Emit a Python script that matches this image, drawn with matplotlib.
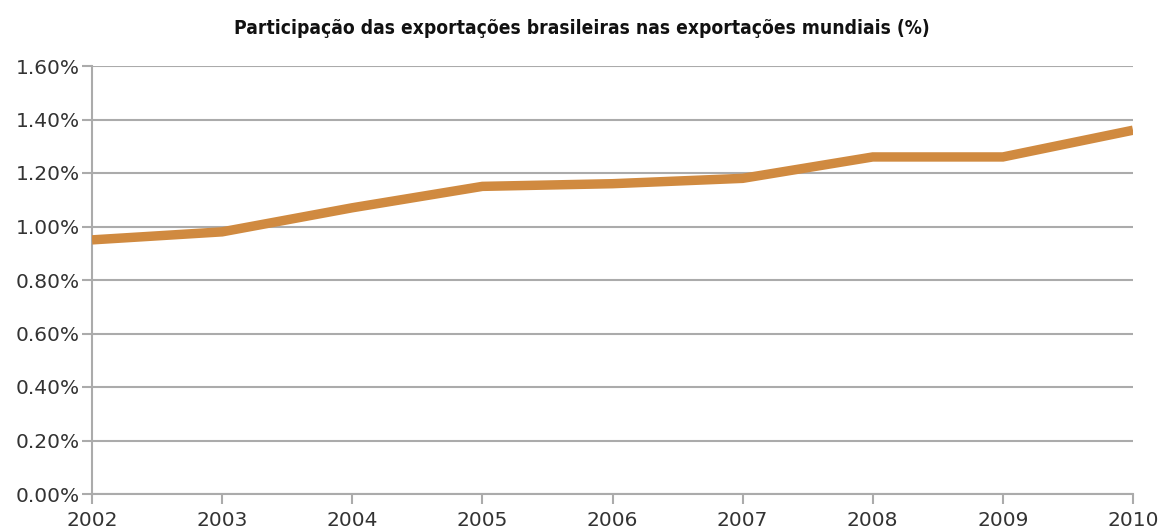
import matplotlib
matplotlib.use("Agg")
import matplotlib.pyplot as plt
from matplotlib.ticker import FuncFormatter

years = [2002, 2003, 2004, 2005, 2006, 2007, 2008, 2009, 2010]
share = [0.95, 0.98, 1.07, 1.15, 1.16, 1.18, 1.26, 1.26, 1.36]
yticks = [0.0, 0.2, 0.4, 0.6, 0.8, 1.0, 1.2, 1.4, 1.6]

grid_c = "#ababab"

fig = plt.figure(figsize=(11.63, 5.32), dpi=100)
ax = fig.add_axes([92 / 1163, 1 - 494 / 532, (1133 - 92) / 1163, (494 - 66) / 532])

ax.plot(years, share, color="#d08a40", lw=6.8, solid_capstyle="butt", solid_joinstyle="miter", zorder=3)

ax.set_xlim(2002, 2010)
ax.set_ylim(0, 1.6)
ax.set_xticks(years)
ax.set_yticks(yticks)
ax.yaxis.set_major_formatter(FuncFormatter(lambda v, p: f"{v:.2f}%"))

ax.grid(axis="y", color=grid_c, lw=1.5, zorder=1)
for s in ["top", "right"]:
    ax.spines[s].set_visible(False)
for s in ["left", "bottom"]:
    ax.spines[s].set_color(grid_c)
    ax.spines[s].set_linewidth(1.5)

ax.tick_params(axis="both", colors=grid_c, labelcolor="#333333", labelsize=14.5, width=1.5, length=7)
ax.tick_params(axis="x", pad=5)
ax.tick_params(axis="y", pad=2)

fig.text(0.5, 1 - 29 / 532, "Participação das exportações brasileiras nas exportações mundiais (%)",
         ha="center", va="center", fontsize=13.8, fontweight="bold", fontstretch="condensed",
         family="DejaVu Sans", color="#111111")

fig.savefig("out.png", dpi=100)
